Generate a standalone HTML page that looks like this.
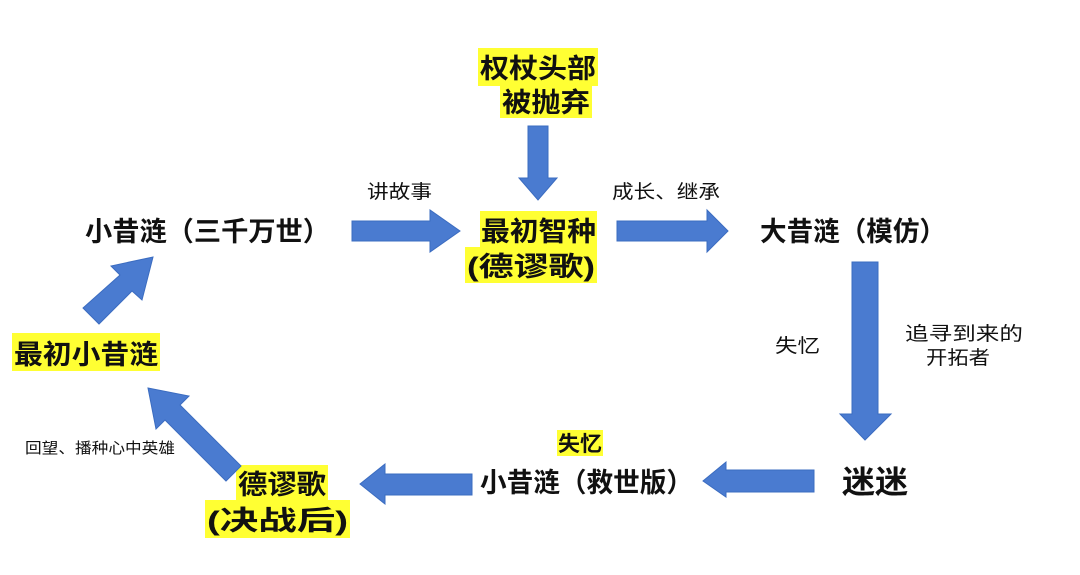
<!DOCTYPE html>
<html><head><meta charset="utf-8"><style>
html,body{margin:0;padding:0;background:#fff;width:1080px;height:575px;overflow:hidden}
svg{display:block}
text{font-family:"Liberation Sans","Noto Sans CJK SC",sans-serif;fill:#111}
.b{font-weight:bold}
</style></head><body>
<svg width="1080" height="575" viewBox="0 0 1080 575">
<g fill="#ffff33">
<rect x="478" y="48" width="120" height="38"/>
<rect x="500" y="84" width="92" height="34"/>
<rect x="480" y="211" width="117" height="38"/>
<rect x="465" y="247" width="132" height="36"/>
<rect x="12" y="333" width="148" height="38"/>
<rect x="557" y="430" width="46" height="26"/>
<rect x="236" y="465" width="92" height="36"/>
<rect x="205" y="500" width="145" height="38"/>
</g>
<g fill="#4a7bd0" stroke="#3b6cc0" stroke-width="1">
<polygon points="528,126 548,126 548,178 557,178 538,200 519,178 528,178"/>
<polygon points="352,221 430,221 430,210 460,231 430,252 430,241 352,241"/>
<polygon points="617,221 707,221 707,210 728,231 707,252 707,241 617,241"/>
<polygon points="852,262 878,262 878,414 891,414 865,440 840,414 852,414"/>
<polygon points="814,470 726,470 726,462 703,481 726,497 726,492 814,492"/>
<polygon points="472,474 385,474 385,464 360,484 385,504 385,495 472,495"/>
<polygon points="241,466 226,481 165,420 156,429 148,388 189,396 180,405"/>
<polygon points="83,308 99,324 132,291 142,300 153,257 111,266 120,275"/>
</g>
<g font-size="27" lengthAdjust="spacingAndGlyphs">
<text x="480" y="78" class="b" textLength="116" lengthAdjust="spacingAndGlyphs">权杖头部</text>
<text x="502" y="112" class="b" textLength="88" lengthAdjust="spacingAndGlyphs">被抛弃</text>
<text x="481" y="241" class="b" textLength="115" lengthAdjust="spacingAndGlyphs">最初智种</text>
<text x="467" y="276" class="b" textLength="128" lengthAdjust="spacingAndGlyphs">(德谬歌)</text>
<text x="85" y="241" class="b" textLength="245" lengthAdjust="spacingAndGlyphs">小昔涟（三千万世）</text>
<text x="760" y="241" class="b" textLength="186" lengthAdjust="spacingAndGlyphs">大昔涟（模仿）</text>
<text x="14" y="364" class="b" textLength="144" lengthAdjust="spacingAndGlyphs">最初小昔涟</text>
<text x="480" y="492" class="b" textLength="213" lengthAdjust="spacingAndGlyphs">小昔涟（救世版）</text>
<text x="238" y="494" class="b" textLength="88" lengthAdjust="spacingAndGlyphs">德谬歌</text>
<text x="207" y="530" class="b" textLength="141" lengthAdjust="spacingAndGlyphs">(决战后)</text>
<text x="842" y="493" class="b" font-size="31" textLength="66" lengthAdjust="spacingAndGlyphs">迷迷</text>
<text x="558" y="451" class="b" font-size="21" textLength="44" lengthAdjust="spacingAndGlyphs">失忆</text>
</g>
<g font-size="19">
<text x="367" y="198" textLength="65" lengthAdjust="spacingAndGlyphs">讲故事</text>
<text x="612" y="198" textLength="108" lengthAdjust="spacingAndGlyphs">成长、继承</text>
<text x="775" y="352" textLength="45" lengthAdjust="spacingAndGlyphs">失忆</text>
<text x="905" y="340" textLength="118" lengthAdjust="spacingAndGlyphs">追寻到来的</text>
<text x="926" y="364" textLength="64" lengthAdjust="spacingAndGlyphs">开拓者</text>
<text x="25" y="453" font-size="15" textLength="150" lengthAdjust="spacingAndGlyphs">回望、播种心中英雄</text>
</g>
</svg>
</body></html>
